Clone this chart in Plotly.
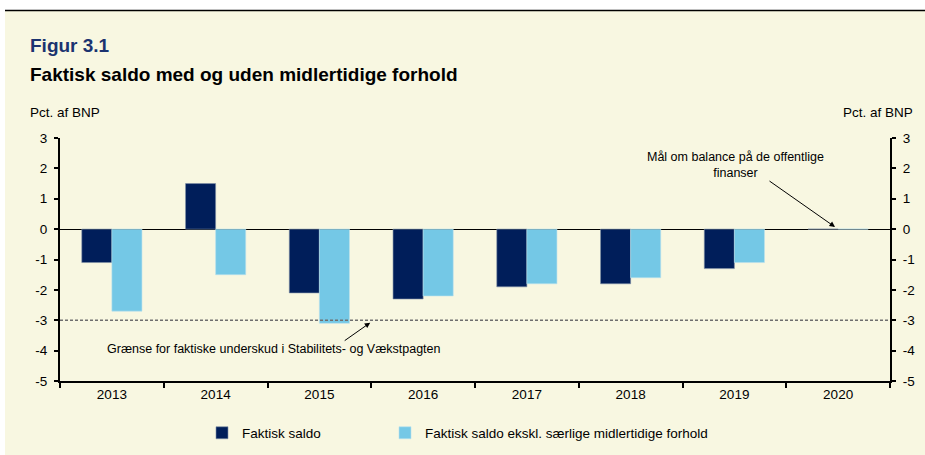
import plotly.graph_objects as go

years = ["2013", "2014", "2015", "2016", "2017", "2018", "2019", "2020"]
faktisk_saldo = [-1.1, 1.5, -2.1, -2.3, -1.9, -1.8, -1.3, 0.0]
faktisk_ekskl = [-2.7, -1.5, -3.1, -2.2, -1.8, -1.6, -1.1, 0.0]
y_ticks = [-5, -4, -3, -2, -1, 0, 1, 2, 3]
y_ticktext = ["-5", "-4", "-3", "-2", "-1", "0", "1", "2", "3"]
sgp_limit = -3

NAVY = "#001E5A"
LIGHT = "#74C8E6"
CREAM = "#F8F7E1"
FONT = "Liberation Sans, Arial, sans-serif"

W, H = 925, 455
L, R, T, B = 60, 35, 138, 74
PW, PH = W - L - R, H - T - B


def px(x):
    return (x - L) / PW


def py(y):
    return (H - B - y) / PH


fig = go.Figure()
fig.add_trace(go.Bar(x=years, y=faktisk_saldo, name="Faktisk saldo", legend="legend",
                     marker=dict(color=NAVY, line=dict(width=0.6, color="#8090A8"))))
fig.add_trace(go.Bar(x=years, y=faktisk_ekskl, name="Faktisk saldo ekskl. særlige midlertidige forhold",
                     legend="legend2",
                     marker=dict(color=LIGHT, line=dict(width=0.6, color="#B8E0EE"))))
# invisible trace to activate the right-hand axis
fig.add_trace(go.Scatter(x=[years[0]], y=[0], yaxis="y2", mode="markers",
                         marker=dict(opacity=0), showlegend=False, hoverinfo="skip"))

leg_common = dict(orientation="h", xanchor="left", yanchor="middle", bgcolor="rgba(0,0,0,0)",
                  font=dict(size=13.5, family=FONT), borderwidth=0)

fig.update_layout(
    width=W, height=H,
    margin=dict(l=L, r=R, t=T, b=B, autoexpand=False),
    paper_bgcolor=CREAM, plot_bgcolor=CREAM,
    font=dict(family=FONT, size=13, color="#000000"),
    barmode="group", bargap=0.42, bargroupgap=0,
    showlegend=True,
    legend=dict(x=px(202), y=py(433), **leg_common),
    legend2=dict(x=px(385), y=py(433), **leg_common),
    xaxis=dict(type="category", showline=True, linewidth=2, linecolor="black",
               ticks="outside", tickson="boundaries", ticklen=5, tickwidth=1.5, tickcolor="black",
               showgrid=False, tickfont=dict(size=13.5), range=[-0.5, 7.5]),
    yaxis=dict(range=[-5, 3], tickvals=y_ticks, ticktext=y_ticktext, showline=True, linewidth=2,
               linecolor="black", ticks="outside", ticklen=4, tickwidth=1.5, tickcolor="black",
               showgrid=False, zeroline=True, zerolinecolor="black", zerolinewidth=1,
               tickfont=dict(size=13.5), ticklabelstandoff=4),
    yaxis2=dict(range=[-5, 3], tickvals=y_ticks, ticktext=y_ticktext, overlaying="y", side="right",
                anchor="x", showline=True, linewidth=2, linecolor="black",
                ticks="outside", ticklen=4, tickwidth=1.5, tickcolor="black",
                showgrid=False, zeroline=False, tickfont=dict(size=13.5), ticklabelstandoff=4),
)

shapes = [
    # white band at top and left margin
    dict(type="rect", xref="paper", yref="paper", x0=px(-2), x1=px(W + 2), y0=py(10), y1=py(-2),
         fillcolor="white", line=dict(width=0), layer="below"),
    dict(type="rect", xref="paper", yref="paper", x0=px(-2), x1=px(5), y0=py(H + 2), y1=py(-2),
         fillcolor="white", line=dict(width=0), layer="below"),
    dict(type="line", xref="paper", yref="paper", x0=px(5), x1=px(W + 2), y0=py(10.5), y1=py(10.5),
         line=dict(color="black", width=1.5)),
    # SGP deficit limit
    dict(type="line", xref="paper", yref="y", x0=0, x1=1, y0=sgp_limit, y1=sgp_limit,
         line=dict(color="#6E6E6E", width=1.5, dash="3px,2px")),
]
fig.update_layout(shapes=shapes)

ann = [
    dict(text="<b>Figur 3.1</b>", x=px(28), y=py(46), xanchor="left", yanchor="middle",
         font=dict(size=19, color="#1B3370")),
    dict(text="<b>Faktisk saldo med og uden midlertidige forhold</b>", x=px(28), y=py(74),
         xanchor="left", yanchor="middle", font=dict(size=19, color="#000000")),
    dict(text="Pct. af BNP", x=px(28), y=py(113), xanchor="left", yanchor="middle",
         font=dict(size=13.5)),
    dict(text="Pct. af BNP", x=px(915), y=py(113), xanchor="right", yanchor="middle",
         font=dict(size=13.5)),
    dict(text="Mål om balance på de offentlige<br>finanser", x=px(735), y=py(165),
         xanchor="center", yanchor="middle", font=dict(size=12.5)),
    dict(text="Grænse for faktiske underskud i Stabilitets- og Vækstpagten", x=px(274), y=py(349),
         xanchor="center", yanchor="middle", font=dict(size=12.5)),
]
for a in ann:
    a.update(xref="paper", yref="paper", showarrow=False)

arrows = [
    dict(x=6.97, y=0.07, ax=-67, ay=-47),
    dict(x=2.49, y=-3.08, ax=-27, ay=19),
]
for a in arrows:
    a.update(xref="x", yref="y", axref="pixel", ayref="pixel", text="", showarrow=True,
             arrowhead=2, arrowsize=1.1, arrowwidth=1, arrowcolor="black", standoff=0)

fig.update_layout(annotations=ann + arrows)

fig.write_html("out.html", config={"displayModeBar": False},
               post_script="document.body.style.margin='0';document.body.style.overflow='hidden';")
